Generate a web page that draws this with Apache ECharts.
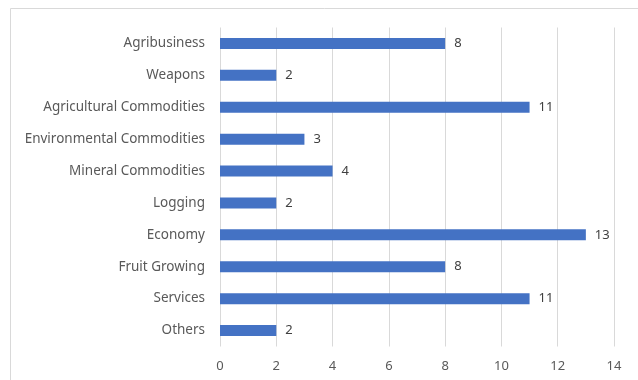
<!DOCTYPE html>
<html>
<head>
<meta charset="utf-8">
<script src="https://cdn.jsdelivr.net/npm/echarts@6/dist/echarts.min.js"></script>
<style>
  html, body { margin: 0; padding: 0; background: #fff; }
  #main { width: 638px; height: 380px; }
</style>
</head>
<body>
<div id="main"></div>
<script>
// categories, top to bottom as in the picture
var categories = ['Agribusiness', 'Weapons', 'Agricultural Commodities', 'Environmental Commodities',
  'Mineral Commodities', 'Logging', 'Economy', 'Fruit Growing', 'Services', 'Others'];
var counts = [8, 2, 11, 3, 4, 2, 13, 8, 11, 2];
var xTicks = [0, 2, 4, 6, 8, 10, 12, 14];

var chart = echarts.init(document.getElementById('main'));

var option = {
  animation: false,
  textStyle: { fontFamily: 'Noto Sans' },
  // chart area border, like the excel frame
  graphic: [{
    type: 'rect',
    shape: { x: 10.5, y: 8.5, width: 700, height: 400 },
    style: { fill: 'none', stroke: '#d9d9d9', lineWidth: 1 }
  }],
  grid: { left: 220, right: 24, top: 27.5, bottom: 33.5 },
  xAxis: {
    type: 'value',
    min: xTicks[0],
    max: xTicks[xTicks.length - 1],
    interval: 2,
    axisLine: { show: false },
    axisTick: { show: false },
    axisLabel: { color: '#595959', fontSize: 13, margin: 13 },
    splitLine: { lineStyle: { color: '#d9d9d9' } }
  },
  yAxis: {
    type: 'category',
    data: categories,
    inverse: true,
    axisLine: { show: false },
    axisTick: { show: false },
    axisLabel: { color: '#595959', fontSize: 13.5, margin: 15 }
  },
  series: [{
    type: 'bar',
    data: counts,
    barWidth: 11,
    itemStyle: { color: '#4472c4' },
    label: { show: true, position: 'right', color: '#404040', fontSize: 13, distance: 9 }
  }]
};

chart.setOption(option);
</script>
</body>
</html>
